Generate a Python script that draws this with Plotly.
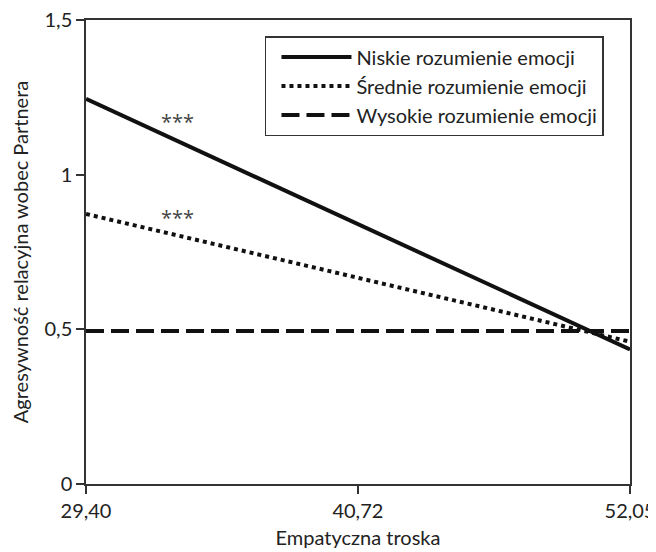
import plotly.graph_objects as go

x_vals = [29.40, 52.05]
x_ticks = [29.40, 40.72, 52.05]
x_tick_labels = ["29,40", "40,72", "52,05"]
y_ticks = [0, 0.5, 1, 1.5]
y_tick_labels = ["0", "0,5", "1", "1,5"]

series_names = ["Niskie rozumienie emocji", "Średnie rozumienie emocji", "Wysokie rozumienie emocji"]
niskie = [1.245, 0.435]
srednie = [0.873, 0.46]
wysokie = [0.495, 0.495]

star_x = [33.2, 33.2]
star_y = [1.172, 0.86]
star_text = ["***", "***"]

FONT = "Lato"
TXT = "#222222"

fig = go.Figure()
fig.add_trace(go.Scatter(x=x_vals, y=niskie, mode="lines", name=series_names[0],
                         line=dict(color="#111111", width=4, dash="solid")))
fig.add_trace(go.Scatter(x=x_vals, y=srednie, mode="lines", name=series_names[1],
                         line=dict(color="#111111", width=4, dash="4px,4px")))
fig.add_trace(go.Scatter(x=x_vals, y=wysokie, mode="lines", name=series_names[2],
                         line=dict(color="#111111", width=4, dash="18px,7px")))

for sx, sy, st in zip(star_x, star_y, star_text):
    fig.add_annotation(x=sx, y=sy, text=st, showarrow=False,
                       font=dict(family="Open Sans", size=20, color="#444444"))

fig.update_layout(
    width=648, height=544,
    margin=dict(l=78, r=26, t=12, b=68),
    paper_bgcolor="white", plot_bgcolor="white",
    font=dict(family=FONT, size=20, color=TXT),
    showlegend=True,
    legend=dict(x=0.329, y=0.9655, xanchor="left", yanchor="top",
                bordercolor="#333333", borderwidth=1.5, bgcolor="white",
                font=dict(family=FONT, size=20, color=TXT),
                itemwidth=70, tracegroupgap=0, indentation=10),
    xaxis=dict(range=[29.40, 52.05], tickvals=x_ticks, ticktext=x_tick_labels,
               showline=True, linecolor="#333333", linewidth=1.5, mirror=True,
               ticks="outside", ticklen=8, tickcolor="#333333", tickwidth=1.5,
               showgrid=False, zeroline=False, automargin=False,
               ticklabeloverflow="allow",
               title=dict(text="Empatyczna troska", font=dict(size=20), standoff=10)),
    yaxis=dict(range=[0, 1.5], tickvals=y_ticks, ticktext=y_tick_labels,
               showline=True, linecolor="#333333", linewidth=1.5, mirror=True,
               ticks="outside", ticklen=8, tickcolor="#333333", tickwidth=1.5,
               showgrid=False, zeroline=False, automargin=False,
               ticklabeloverflow="allow",
               title=dict(text="Agresywność relacyjna wobec Partnera", font=dict(size=20), standoff=12)),
)

fig.write_html("out.html")
